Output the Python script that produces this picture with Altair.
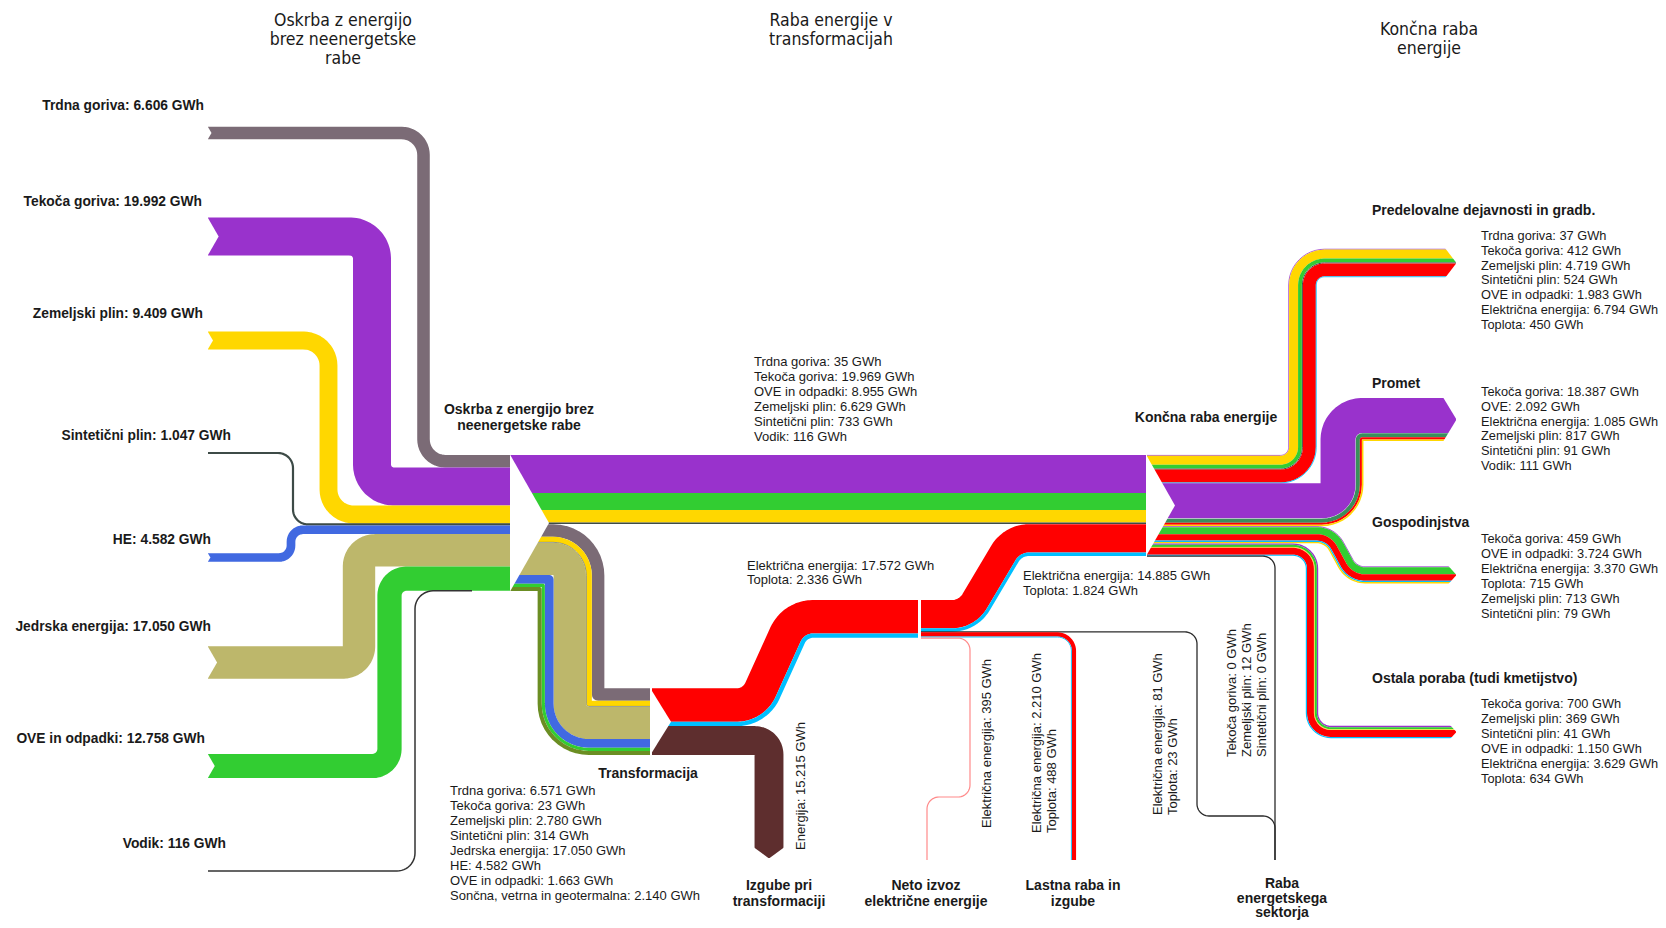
import math
import altair as alt
import pandas as pd

alt.data_transformers.disable_max_rows()

# ------------------------------------------------------------------ data (GWh)
src_names = ["Trdna goriva", "Tekoča goriva", "Zemeljski plin", "Sintetični plin",
             "HE", "Jedrska energija", "OVE in odpadki", "Vodik"]
src_values = [6606, 19992, 9409, 1047, 4582, 17050, 12758, 116]

direct_names = ["Trdna goriva", "Tekoča goriva", "OVE in odpadki", "Zemeljski plin", "Sintetični plin", "Vodik"]
direct_values = [35, 19969, 8955, 6629, 733, 116]

trans_in_names = ["Trdna goriva", "Tekoča goriva", "Zemeljski plin", "Sintetični plin",
                  "Jedrska energija", "HE", "OVE in odpadki", "Sončna, vetrna in geotermalna"]
trans_in_values = [6571, 23, 2780, 314, 17050, 4582, 1663, 2140]

trans_out_names = ["Električna energija", "Toplota"]
trans_out_values = [17572, 2336]
loss_names = ["Energija"]
loss_values = [15215]

to_final_names = ["Električna energija", "Toplota"]
to_final_values = [14885, 1824]
export_names = ["Električna energija"]
export_values = [395]
own_use_names = ["Električna energija", "Toplota"]
own_use_values = [2210, 488]
sector_tr_names = ["Električna energija", "Toplota"]
sector_tr_values = [81, 23]
sector_dir_names = ["Tekoča goriva", "Zemeljski plin", "Sintetični plin"]
sector_dir_values = [0, 12, 0]

ind_names = ["Trdna goriva", "Tekoča goriva", "Zemeljski plin", "Sintetični plin",
             "OVE in odpadki", "Električna energija", "Toplota"]
ind_values = [37, 412, 4719, 524, 1983, 6794, 450]
tra_names = ["Tekoča goriva", "OVE", "Električna energija", "Zemeljski plin", "Sintetični plin", "Vodik"]
tra_values = [18387, 2092, 1085, 817, 91, 111]
hh_names = ["Tekoča goriva", "OVE in odpadki", "Električna energija", "Toplota", "Zemeljski plin", "Sintetični plin"]
hh_values = [459, 3724, 3370, 715, 713, 79]
oth_names = ["Tekoča goriva", "Zemeljski plin", "Sintetični plin", "OVE in odpadki", "Električna energija", "Toplota"]
oth_values = [700, 369, 41, 1150, 3629, 634]

# ------------------------------------------------------------------ styles / layout
COLORS = {
    "Trdna goriva": "#7B6B76", "Tekoča goriva": "#9932CC", "Zemeljski plin": "#FFD700",
    "Sintetični plin": "#3D4B47", "HE": "#4169E1", "Jedrska energija": "#BDB76B",
    "OVE in odpadki": "#32CD32", "OVE": "#3A8F5C", "Vodik": "#333333",
    "Sončna, vetrna in geotermalna": "#6B8E23", "Električna energija": "#FF0000",
    "Toplota": "#00BFFF", "Energija": "#5E2E2E",
}
K = 0.0019          # px per GWh
W, H = 1650, 912
FONT = "Liberation Sans, Arial, sans-serif"
NARROW = "Liberation Sans Narrow, Arial Narrow, DejaVu Sans Condensed, sans-serif"


def fmt(v):
    return f"{v:,}".replace(",", ".")


def unit(dx, dy):
    L = math.hypot(dx, dy)
    return dx / L, dy / L, L


def offset_poly(pts, d):
    segs = []
    for j in range(len(pts) - 1):
        ux, uy, _ = unit(pts[j + 1][0] - pts[j][0], pts[j + 1][1] - pts[j][1])
        segs.append((ux, uy))
    out = []
    n = len(pts)
    for j in range(n):
        if j == 0 or j == n - 1:
            ux, uy = segs[0] if j == 0 else segs[-1]
            out.append((pts[j][0] + d * uy, pts[j][1] - d * ux))
        else:
            (ax, ay), (bx, by) = segs[j - 1], segs[j]
            n1 = (ay, -ax)
            n2 = (by, -bx)
            dot = n1[0] * n2[0] + n1[1] * n2[1]
            f = d / (1 + dot)
            out.append((pts[j][0] + f * (n1[0] + n2[0]), pts[j][1] + f * (n1[1] + n2[1])))
    return out, segs


def fillet(pts, radii, steps=12):
    n = len(pts)
    res = [pts[0]]
    for j in range(1, n - 1):
        px, py = pts[j]
        ax, ay, L1 = unit(px - pts[j - 1][0], py - pts[j - 1][1])
        bx, by, L2 = unit(pts[j + 1][0] - px, pts[j + 1][1] - py)
        cr = ax * by - ay * bx
        dt = ax * bx + ay * by
        theta = math.atan2(abs(cr), dt)
        R = radii[j - 1]
        if R < 0.05 or theta < 1e-4:
            res.append((px, py))
            continue
        lim1 = L1 if j == 1 else L1 / 2
        lim2 = L2 if j == n - 2 else L2 / 2
        t = R * math.tan(theta / 2)
        tmax = min(lim1, lim2)
        if t > tmax:
            t = tmax
            R = t / math.tan(theta / 2)
        t1 = (px - ax * t, py - ay * t)
        t2 = (px + bx * t, py + by * t)
        if cr > 0:
            mx, my = -ay, ax
        else:
            mx, my = ay, -ax
        ox, oy = t1[0] + mx * R, t1[1] + my * R
        a1 = math.atan2(t1[1] - oy, t1[0] - ox)
        a2 = math.atan2(t2[1] - oy, t2[0] - ox)
        da = a2 - a1
        while da > math.pi:
            da -= 2 * math.pi
        while da < -math.pi:
            da += 2 * math.pi
        for k in range(steps + 1):
            a = a1 + da * k / steps
            res.append((ox + R * math.cos(a), oy + R * math.sin(a)))
    res.append(pts[-1])
    return res


rows = []


def add_bundle(key, route, rc, strips, minw=0.0, skip_below=0.35, colors=None):
    """strips: list of (name, value) ordered from left-of-travel to right-of-travel."""
    Wb = sum(v for _, v in strips) * K
    cum = 0.0
    for s_i, (name, v) in enumerate(strips):
        w = v * K
        d = Wb / 2 - (cum + w / 2)
        cum += w
        sw = max(w, minw)
        if sw < skip_below:
            continue
        opts, segs = offset_poly(route, d)
        radii = []
        for j in range(1, len(route) - 1):
            (ax, ay), (bx, by) = segs[j - 1], segs[j]
            c = ax * by - ay * bx
            sgn = 1 if c > 0 else -1
            radii.append(max(rc + d * sgn, 0.0))
        pts = fillet(opts, radii)
        col = colors if isinstance(colors, str) else COLORS.get(name, "#333333")
        for i, (x, y) in enumerate(pts):
            rows.append(dict(sid=f"{key}-{s_i}", i=i, x=x, y=y, sw=sw, col=col))


def pick(names, values, order):
    m = dict(zip(names, values))
    return [(n, m[n]) for n in order]


tri_rows = []      # vertical-edge white triangles (x independent)
tri_h_rows = []    # horizontal white triangles (y independent)


def tri_v(tid, x0, ya0, yb0, x1, ya1, yb1):
    tri_rows.append(dict(tid=tid, x=x0, y=ya0, y2=yb0))
    tri_rows.append(dict(tid=tid, x=x1, y=ya1, y2=yb1))


def tail_notch(tid, x0, yc, w, depth):
    tri_v(tid, x0 - 0.6, yc - w / 2 - 0.6, yc + w / 2 + 0.6, x0 + depth, yc, yc)


def arrow_right(tid, xt, yc, w, L):
    top, bot = yc - w / 2 - 0.8, yc + w / 2 + 0.8
    tri_v(tid + "a", xt - L, top, top, xt + 0.5, top, yc)
    tri_v(tid + "b", xt - L, bot, bot, xt + 0.5, yc, bot)


# ------------------------------------------------------------------ sources -> Oskrba node
X_START = 208
OSK_X, OSK_TOP = 510, 455
SRC_LAYOUT = {  # start-y centre, x of vertical leg, centre radius
    "Trdna goriva": (133, 423.5, 22), "Tekoča goriva": (236.5, 372, 22),
    "Zemeljski plin": (340.5, 328.5, 25), "Sintetični plin": (453, 293, 15),
    "HE": (557.5, 291, 12), "Jedrska energija": (662.5, 359, 16),
    "OVE in odpadki": (766, 389.5, 17), "Vodik": (871, 415, 18),
}
cum = OSK_TOP
for name, v in zip(src_names, src_values):
    w = v * K
    yn = cum + w / 2
    cum += w
    y0, xv, rc = SRC_LAYOUT[name]
    xend = 472 if name == "Vodik" else OSK_X
    minw = 2.2 if name == "Sintetični plin" else (1.5 if name == "Vodik" else 0)
    add_bundle("src-" + name, [(X_START, y0), (xv, y0), (xv, yn), (xend, yn)], rc, [(name, v)], minw=minw)
    if name not in ("Sintetični plin", "Vodik"):
        tail_notch("tail-" + name, X_START, y0, w, 0.28 * w)
OSK_BOT = cum

# Oskrba -> Končna (direct)
KON_XL, KON_XR, KON_TOP = 1146, 1147, 455
direct_strips = pick(direct_names, direct_values,
                     ["Tekoča goriva", "OVE in odpadki", "Zemeljski plin", "Sintetični plin", "Trdna goriva", "Vodik"])
Wd = sum(v for _, v in direct_strips) * K
yc_direct = OSK_TOP + Wd / 2
add_bundle("direct", [(OSK_X, yc_direct), (KON_XL, yc_direct)], 0, direct_strips)

# Oskrba -> Transformacija
TR_XL, TR_XR = 650, 652
trans_strips = pick(trans_in_names, trans_in_values, trans_in_names)
Wt = sum(v for _, v in trans_strips) * K
yc_t0 = OSK_TOP + Wd + Wt / 2
TR_TOP = 688.3
yc_t1 = TR_TOP + Wt / 2
add_bundle("trans", [(OSK_X, yc_t0), (571, yc_t0), (571, yc_t1), (TR_XL, yc_t1)], 18, trans_strips)

# Transformacija -> middle node (electricity + heat) and losses
MID_XL, MID_XR, MID_TOP = 918, 921, 600
eh_strips = pick(trans_out_names, trans_out_values, trans_out_names)
Weh = sum(v for _, v in eh_strips) * K
yc_eh0 = TR_TOP + Weh / 2
yc_eh1 = MID_TOP + Weh / 2
add_bundle("eh", [(TR_XR, yc_eh0), (755, yc_eh0), (795, yc_eh1), (MID_XL, yc_eh1)], 28, eh_strips)

Wl = loss_values[0] * K
yc_l = TR_TOP + Weh + Wl / 2
LOSS_X, LOSS_END = 769, 858
add_bundle("loss", [(TR_XR, yc_l), (LOSS_X, yc_l), (LOSS_X, LOSS_END)], 14, [("Energija", loss_values[0])])
Lloss = 0.3 * Wl + 2
tri_h_rows += [dict(tid="la", y=LOSS_END - Lloss, x=LOSS_X - Wl / 2 - 0.8, x2=LOSS_X - Wl / 2 - 0.8),
               dict(tid="la", y=LOSS_END + 0.5, x=LOSS_X - Wl / 2 - 0.8, x2=LOSS_X),
               dict(tid="lb", y=LOSS_END - Lloss, x=LOSS_X + Wl / 2 + 0.8, x2=LOSS_X + Wl / 2 + 0.8),
               dict(tid="lb", y=LOSS_END + 0.5, x=LOSS_X, x2=LOSS_X + Wl / 2 + 0.8)]

# middle node outputs
fin_strips = pick(to_final_names, to_final_values, to_final_names)
Wf = sum(v for _, v in fin_strips) * K
yc_f0 = MID_TOP + Wf / 2
yc_f1 = KON_TOP + Wd + Wf / 2
add_bundle("fin", [(MID_XR, yc_f0), (968, yc_f0), (1013, yc_f1), (KON_XL, yc_f1)], 28, fin_strips)

y_cur = MID_TOP + Wf
y_sec = y_cur + 0.15
add_bundle("sec1", [(MID_XR, y_sec), (1197, y_sec), (1197, 816), (1275, 816), (1275, 860)], 12,
           [("x", sum(sector_tr_values))], minw=1.3, colors="#2b2b2b")
y_cur += sum(sector_tr_values) * K
Wo = sum(own_use_values) * K
y_own = y_cur + 0.4 + Wo / 2
add_bundle("own", [(MID_XR, y_own), (1073.5, y_own), (1073.5, 860)], 16,
           pick(own_use_names, own_use_values, own_use_names))
y_exp = y_cur + Wo + 1.0
add_bundle("exp", [(MID_XR, y_exp), (970, y_exp), (970, 797), (927, 797), (927, 860)], 12,
           [("x", export_values[0])], minw=1.2, colors="#FF8A8A")

# Končna outputs
END_X = 1456
cons = [
    ("ind", pick(ind_names, ind_values, ["Tekoča goriva", "Zemeljski plin", "OVE in odpadki", "Trdna goriva",
                                         "Sintetični plin", "Električna energija", "Toplota"]),
     lambda y: [(KON_XR, y), (1302.5, y), (1302.5, 263), (END_X, 263)], 22, 263, 11),
    ("tra", pick(tra_names, tra_values, ["Tekoča goriva", "Vodik", "Sintetični plin", "OVE",
                                         "Električna energija", "Zemeljski plin"]),
     lambda y: [(KON_XR, y), (1342, y), (1342, 419.5), (END_X, 419.5)], 20, 419.5, 13),
    ("hh", pick(hh_names, hh_values, hh_names),
     lambda y: [(KON_XR, y), (1330, y), (1352, 575), (END_X, 575)], 22, 575, 8),
    ("oth", pick(oth_names, oth_values, ["Tekoča goriva", "OVE in odpadki", "Zemeljski plin", "Sintetični plin",
                                         "Električna energija", "Toplota"]),
     lambda y: [(KON_XR, y), (1312, y), (1312, 732), (END_X, 732)], 19, 732, 6),
]
y_cur = KON_TOP
for key, strips, route_fn, rc, y_end, tipL in cons:
    Wc = sum(v for _, v in strips) * K
    yc = y_cur + Wc / 2
    y_cur += Wc
    add_bundle(key, route_fn(yc), rc, strips)
    arrow_right("tip-" + key, END_X, y_end, Wc, tipL)
y_sd = y_cur + 0.3
add_bundle("sec2", [(KON_XR, y_sd), (1275, y_sd), (1275, 860)], 12,
           [("x", sum(sector_dir_values))], minw=1.3, colors="#2b2b2b")
KON_BOT = y_cur

# node triangles
tri_v("n-osk", OSK_X, OSK_TOP - 0.5, OSK_BOT + 0.5, 549, (OSK_TOP + OSK_BOT) / 2, (OSK_TOP + OSK_BOT) / 2)
tri_v("n-tr", TR_XL, TR_TOP - 0.5, TR_TOP + Wt + 0.5, 671, TR_TOP + Wt / 2, TR_TOP + Wt / 2)
kmid = (KON_TOP + KON_BOT) / 2
tri_v("n-kon", KON_XL, KON_TOP - 0.5, KON_BOT + 0.5, 1175, kmid, kmid)

# ------------------------------------------------------------------ texts
def block(x, y0, lines, step=14.9):
    return [dict(t=t, x=x, y=y0 + k * step) for k, t in enumerate(lines)]


def item_lines(names, values):
    return [f"{n}: {fmt(v)} GWh" for n, v in zip(names, values)]


SRC_LABEL_POS = {"Trdna goriva": (204, 106), "Tekoča goriva": (202, 201.5), "Zemeljski plin": (203, 314),
                 "Sintetični plin": (231, 436), "HE": (211, 540), "Jedrska energija": (211, 626.5),
                 "OVE in odpadki": (205, 739), "Vodik": (226, 844)}
t_bold_right = [dict(t=f"{n}: {fmt(v)} GWh", x=SRC_LABEL_POS[n][0], y=SRC_LABEL_POS[n][1])
                for n, v in zip(src_names, src_values)]

t_bold_center = [
    dict(t="Oskrba z energijo brez", x=519, y=410), dict(t="neenergetske rabe", x=519, y=426),
    dict(t="Transformacija", x=648, y=774), dict(t="Končna raba energije", x=1206, y=418),
    dict(t="Izgube pri", x=779, y=886), dict(t="transformaciji", x=779, y=901.5),
    dict(t="Neto izvoz", x=926, y=886), dict(t="električne energije", x=926, y=901.5),
    dict(t="Lastna raba in", x=1073, y=886), dict(t="izgube", x=1073, y=901.5),
    dict(t="Raba", x=1282, y=884), dict(t="energetskega", x=1282, y=899), dict(t="sektorja", x=1282, y=913),
]
t_bold_left = [
    dict(t="Predelovalne dejavnosti in gradb.", x=1372, y=210.5), dict(t="Promet", x=1372, y=384),
    dict(t="Gospodinjstva", x=1372, y=522.5), dict(t="Ostala poraba (tudi kmetijstvo)", x=1372, y=679),
]
t_reg = (block(754, 362, item_lines(direct_names, direct_values), 15)
         + block(747, 565.7, item_lines(trans_out_names, trans_out_values), 14.5)
         + block(1023, 576, item_lines(to_final_names, to_final_values), 14.7)
         + block(450, 791, item_lines(trans_in_names, trans_in_values), 15))
t_reg_right = (block(1481, 235.7, item_lines(ind_names, ind_values))
               + block(1481, 391.7, item_lines(tra_names, tra_values))
               + block(1481, 539.3, item_lines(hh_names, hh_values))
               + block(1481, 704.3, item_lines(oth_names, oth_values)))
t_rot = ([dict(t=item_lines(loss_names, loss_values)[0], x=801, y=850),
          dict(t=item_lines(export_names, export_values)[0], x=987, y=828)]
         + [dict(t=s, x=1037 + 15 * k, y=833) for k, s in enumerate(item_lines(own_use_names, own_use_values))]
         + [dict(t=s, x=1158 + 15 * k, y=815) for k, s in enumerate(item_lines(sector_tr_names, sector_tr_values))]
         + [dict(t=s, x=1232 + 15 * k, y=757) for k, s in enumerate(item_lines(sector_dir_names, sector_dir_values))])
t_title = [dict(t="Oskrba z energijo", x=343, y=21), dict(t="brez neenergetske", x=343, y=40),
           dict(t="rabe", x=343, y=59), dict(t="Raba energije v", x=831, y=21),
           dict(t="transformacijah", x=831, y=40), dict(t="Končna raba", x=1429, y=30),
           dict(t="energije", x=1429, y=49)]

# ------------------------------------------------------------------ chart
X = alt.X("x:Q", scale=alt.Scale(domain=[8, 8 + W], nice=False, zero=False), axis=None)
Y = alt.Y("y:Q", scale=alt.Scale(domain=[8, 8 + H], nice=False, zero=False, reverse=True), axis=None)

bands = alt.Chart(pd.DataFrame(rows)).mark_line(strokeCap="butt", strokeJoin="round").encode(
    x=X, y=Y, detail="sid:N", order="i:Q",
    color=alt.Color("col:N", scale=None),
    strokeWidth=alt.StrokeWidth("sw:Q", scale=None),
)
tris = alt.Chart(pd.DataFrame(tri_rows)).mark_area(color="white", orient="vertical").encode(
    x=X, y=Y, y2="y2:Q", detail="tid:N")
tris_h = alt.Chart(pd.DataFrame(tri_h_rows)).mark_area(color="white", orient="horizontal").encode(
    y=Y, x=X, x2="x2:Q", detail="tid:N")


def tlayer(data, **mk):
    return alt.Chart(pd.DataFrame(data)).mark_text(baseline="middle", color="#1a1a1a", **mk).encode(
        x=X, y=Y, text="t:N")


layers = [
    bands, tris, tris_h,
    tlayer(t_bold_right, align="right", font=FONT, fontSize=13.8, fontWeight="bold"),
    tlayer(t_bold_center, align="center", font=FONT, fontSize=14, fontWeight="bold"),
    tlayer(t_bold_left, align="left", font=FONT, fontSize=14, fontWeight="bold"),
    tlayer(t_reg, align="left", font=FONT, fontSize=13),
    tlayer(t_reg_right, align="left", font=FONT, fontSize=12.8),
    tlayer(t_rot, align="left", font=FONT, fontSize=13, angle=270),
    tlayer(t_title, align="center", font=NARROW, fontSize=17.5),
]

chart = alt.layer(*layers).properties(
    width=W, height=H, padding=0, background="white",
    autosize=alt.AutoSizeParams(type="none"),
).configure_view(stroke=None)

chart.save("out.html", embed_options={"renderer": "svg", "actions": False})
